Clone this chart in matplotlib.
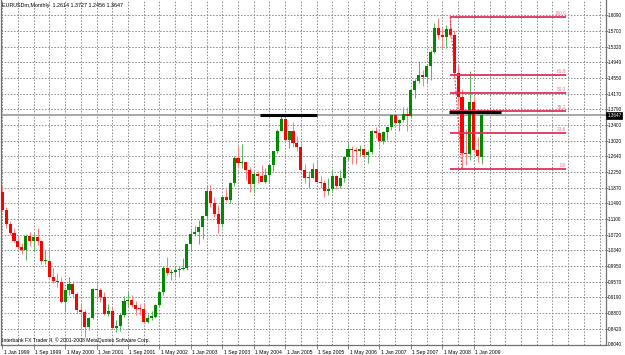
import numpy as np
import pandas as pd
import matplotlib
matplotlib.use("Agg")
import matplotlib.pyplot as plt
import matplotlib.transforms as mtransforms

# ---------------- data (EURUSD monthly, Jan 1999 - Mar 2009) ----------------
months = pd.period_range("1999-01", "2009-03", freq="M")

opens = [
    1.1770, 1.1330, 1.0990, 1.0765, 1.0570, 1.0420, 1.0340, 1.0690, 1.0560, 1.0670, 1.0560, 1.0070,
    1.0070, 0.9690, 0.9600, 0.9570, 0.9080, 0.9370, 0.9520, 0.9270, 0.8880, 0.8830, 0.8480, 0.8700,
    0.9390, 0.9370, 0.9200, 0.8780, 0.8850, 0.8450, 0.8490, 0.8760, 0.9110, 0.9130, 0.9000, 0.8910,
    0.8900, 0.8600, 0.8700, 0.8720, 0.9010, 0.9330, 0.9910, 0.9780, 0.9810, 0.9870, 0.9890, 0.9920,
    1.0490, 1.0730, 1.0780, 1.0910, 1.1170, 1.1790, 1.1490, 1.1240, 1.0990, 1.1650, 1.1580, 1.1990,
    1.2590, 1.2480, 1.2490, 1.2300, 1.1970, 1.2200, 1.2170, 1.2020, 1.2180, 1.2430, 1.2760, 1.3270,
    1.3560, 1.3040, 1.3250, 1.2960, 1.2870, 1.2300, 1.2100, 1.2120, 1.2330, 1.2020, 1.1990, 1.1790,
    1.1840, 1.2150, 1.1920, 1.2120, 1.2620, 1.2810, 1.2790, 1.2760, 1.2810, 1.2680, 1.2750, 1.3250,
    1.3200, 1.3020, 1.3230, 1.3350, 1.3650, 1.3450, 1.3540, 1.3680, 1.3630, 1.4260, 1.4490, 1.4640,
    1.4590, 1.4860, 1.5180, 1.5790, 1.5610, 1.5550, 1.5750, 1.5600, 1.4670, 1.4090, 1.2730, 1.2700,
    1.3970, 1.2800, 1.2614,
]
highs = [
    1.1906, 1.1400, 1.1050, 1.0890, 1.0720, 1.0520, 1.0750, 1.0780, 1.0760, 1.0900, 1.0600, 1.0340,
    1.0410, 0.9900, 0.9780, 0.9690, 0.9380, 0.9690, 0.9600, 0.9330, 0.9050, 0.8880, 0.8720, 0.9420,
    0.9590, 0.9410, 0.9320, 0.9040, 0.8950, 0.8640, 0.8810, 0.9230, 0.9320, 0.9250, 0.9100, 0.9030,
    0.9050, 0.8780, 0.8850, 0.9030, 0.9350, 0.9970, 1.0190, 0.9890, 0.9950, 0.9950, 1.0150, 1.0500,
    1.0850, 1.0930, 1.1080, 1.1180, 1.1930, 1.1930, 1.1640, 1.1450, 1.1670, 1.1840, 1.2010, 1.2640,
    1.2900, 1.2930, 1.2500, 1.2380, 1.2280, 1.2270, 1.2420, 1.2350, 1.2430, 1.2780, 1.3310, 1.3667,
    1.3570, 1.3260, 1.3480, 1.3130, 1.2970, 1.2450, 1.2290, 1.2480, 1.2580, 1.2170, 1.2050, 1.2100,
    1.2320, 1.2180, 1.2300, 1.2640, 1.2980, 1.2900, 1.2880, 1.2920, 1.2880, 1.2800, 1.3290, 1.3370,
    1.3250, 1.3250, 1.3390, 1.3680, 1.3660, 1.3550, 1.3850, 1.3850, 1.4280, 1.4530, 1.4970, 1.4760,
    1.4880, 1.5230, 1.5910, 1.6020, 1.5790, 1.5840, 1.6038, 1.5730, 1.4870, 1.4290, 1.3300, 1.4720,
    1.4080, 1.3110, 1.3727,
]
lows = [
    1.1310, 1.0880, 1.0710, 1.0550, 1.0380, 1.0260, 1.0110, 1.0450, 1.0320, 1.0480, 1.0020, 1.0000,
    0.9700, 0.9550, 0.9450, 0.9050, 0.8845, 0.9260, 0.9180, 0.8820, 0.8400, 0.8228, 0.8400, 0.8670,
    0.9120, 0.9070, 0.8750, 0.8730, 0.8440, 0.8350, 0.8360, 0.8720, 0.8960, 0.8950, 0.8770, 0.8760,
    0.8570, 0.8560, 0.8650, 0.8690, 0.8990, 0.9260, 0.9730, 0.9610, 0.9700, 0.9700, 0.9860, 0.9870,
    1.0340, 1.0690, 1.0500, 1.0620, 1.1120, 1.1410, 1.1150, 1.0760, 1.0910, 1.1560, 1.1500, 1.1920,
    1.2350, 1.2360, 1.2060, 1.1760, 1.1750, 1.2000, 1.2030, 1.1980, 1.2000, 1.2280, 1.2720, 1.3260,
    1.2980, 1.2850, 1.2880, 1.2760, 1.2300, 1.1980, 1.1870, 1.2100, 1.2000, 1.1870, 1.1640, 1.1700,
    1.1800, 1.1830, 1.1860, 1.2020, 1.2550, 1.2450, 1.2450, 1.2660, 1.2630, 1.2480, 1.2700, 1.3100,
    1.2860, 1.2930, 1.3030, 1.3290, 1.3400, 1.3260, 1.3490, 1.3260, 1.3580, 1.4060, 1.4430, 1.4360,
    1.4430, 1.4500, 1.5160, 1.5520, 1.5280, 1.5300, 1.5570, 1.4580, 1.3880, 1.2330, 1.2420, 1.2560,
    1.2750, 1.2510, 1.2456,
]
closes = [
    1.1330, 1.0990, 1.0765, 1.0570, 1.0420, 1.0340, 1.0690, 1.0560, 1.0670, 1.0560, 1.0070, 1.0070,
    0.9690, 0.9600, 0.9570, 0.9080, 0.9370, 0.9520, 0.9270, 0.8880, 0.8830, 0.8480, 0.8700, 0.9390,
    0.9370, 0.9200, 0.8780, 0.8850, 0.8450, 0.8490, 0.8760, 0.9110, 0.9130, 0.9000, 0.8910, 0.8900,
    0.8600, 0.8700, 0.8720, 0.9010, 0.9330, 0.9910, 0.9780, 0.9810, 0.9870, 0.9890, 0.9920, 1.0490,
    1.0730, 1.0780, 1.0910, 1.1170, 1.1790, 1.1490, 1.1240, 1.0990, 1.1650, 1.1580, 1.1990, 1.2590,
    1.2480, 1.2490, 1.2300, 1.1970, 1.2200, 1.2170, 1.2020, 1.2180, 1.2430, 1.2760, 1.3270, 1.3560,
    1.3040, 1.3250, 1.2960, 1.2870, 1.2300, 1.2100, 1.2120, 1.2330, 1.2020, 1.1990, 1.1790, 1.1840,
    1.2150, 1.1920, 1.2120, 1.2620, 1.2810, 1.2790, 1.2760, 1.2810, 1.2680, 1.2750, 1.3250, 1.3200,
    1.3020, 1.3230, 1.3350, 1.3650, 1.3450, 1.3540, 1.3680, 1.3630, 1.4260, 1.4490, 1.4640, 1.4590,
    1.4860, 1.5180, 1.5790, 1.5610, 1.5550, 1.5750, 1.5600, 1.4670, 1.4090, 1.2730, 1.2700, 1.3970,
    1.2800, 1.2660, 1.3647,
]

price_ticks = [0.8040, 0.8420, 0.8800, 0.9190, 0.9570, 0.9950, 1.0340, 1.0720, 1.1100, 1.1490,
               1.1870, 1.2250, 1.2640, 1.3020, 1.3400, 1.3790, 1.4170, 1.4550, 1.4940, 1.5320,
               1.5700, 1.6090]
date_labels = ["1 Jan 1999", "1 Sep 1999", "1 May 2000", "1 Jan 2001", "1 Sep 2001", "1 May 2002",
               "1 Jan 2003", "1 Sep 2003", "1 May 2004", "1 Jan 2005", "1 Sep 2005", "1 May 2006",
               "1 Jan 2007", "1 Sep 2007", "1 May 2008", "1 Jan 2009"]

fib_levels = ["0.0", "23.6", "38.2", "50.0", "61.8", "100.0"]
fib_ratios = [0.0, 0.236, 0.382, 0.5, 0.618, 1.0]
fib_low, fib_high = 1.2330, 1.6038
resistance_2004 = 1.3650
resistance_2009 = 1.3727
current_price = 1.3647
header = "EURUSDm,Monthly  1.2614 1.3727 1.2456 1.3647"
copyright_text = "Interbank FX Trader 4, \u00a9 2001-2008 MetaQuotes Software Corp."

# ---------------- figure ----------------
W, H = 625, 355
fig = plt.figure(figsize=(W / 100, H / 100), dpi=100)
fig.patch.set_facecolor("white")
ax = fig.add_axes([0.5 / W, 10.5 / H, 605 / W, 344.5 / H])

x = np.arange(len(months))
o = np.array(opens); h = np.array(highs); l = np.array(lows); c = np.array(closes)
up = c >= o

FONT = "Liberation Sans"
GRID = "#8c8c8c"

# grid
for p in price_ticks:
    ax.axhline(p, color=GRID, lw=0.7, dashes=(1.6, 1.6), zorder=0)
for gx in range(0, 154, 4):
    ax.axvline(gx, color=GRID, lw=0.7, dashes=(1.6, 1.6), zorder=0)

# current price line
ax.axhline(current_price, color="#a0a0a0", lw=1.3, zorder=1)

# candles
green, red = "#008a00", "#ff0000"
ax.vlines(x[up], l[up], h[up], color="#5fb45f", lw=0.75, zorder=2)
ax.vlines(x[~up], l[~up], h[~up], color="#ff7f7f", lw=0.75, zorder=2)
body_lo = np.minimum(o, c)
body_h = np.maximum(np.abs(c - o), 0.0025)
ax.bar(x[up], body_h[up], bottom=body_lo[up], width=0.78, color=green, lw=0, zorder=3)
ax.bar(x[~up], body_h[~up], bottom=body_lo[~up], width=0.78, color=red, lw=0, zorder=3)

# fibonacci retracement
i_hi = list(months).index(pd.Period("2008-07", "M"))
i_lo = list(months).index(pd.Period("2008-10", "M"))
fib_end = 143.5
FIB = "#e0305a"
for lab, r in zip(fib_levels, fib_ratios):
    lvl = fib_low + r * (fib_high - fib_low)
    ax.plot([i_hi, fib_end], [lvl, lvl], color=FIB, lw=1.3, zorder=4, solid_capstyle="butt")
    ax.text(fib_end, lvl + 0.003, lab, color="#e87a90", fontsize=3.4, family=FONT,
            ha="right", va="bottom", zorder=5)
ax.plot([i_hi, i_lo], [fib_high, fib_low], color=FIB, lw=0.8, dashes=(1.5, 1.5), zorder=4)

# horizontal resistance lines
ax.plot([65.7, 80.0], [resistance_2004] * 2, color="black", lw=2.2, zorder=5, solid_capstyle="butt")
ax.plot([113.6, 127.0], [resistance_2009] * 2, color="black", lw=2.2, zorder=5, solid_capstyle="butt")

# axes
ax.set_xlim(-0.43, -0.43 + 605 / 3.93)
ax.set_ylim(0.8040, 0.8040 + 344.5 / 409.0)
ax.set_facecolor("white")
ax.spines["top"].set_visible(False)
for s in ["left", "right", "bottom"]:
    ax.spines[s].set_color("#707070")
    ax.spines[s].set_linewidth(0.9)

ax.yaxis.tick_right()
ax.set_yticks(price_ticks)
ax.set_yticklabels([f"{p:.4f}" for p in price_ticks], fontsize=3.3, family=FONT)
ax.tick_params(axis="y", length=1.2, width=0.6, color="#707070", pad=0.6)

label_pos = np.arange(0, 121, 8)
ax.set_xticks(label_pos)
ax.set_xticklabels(date_labels, fontsize=3.7, family=FONT, ha="left")
ax.tick_params(axis="x", length=3, width=0.6, color="#707070", pad=1.0)
offset = mtransforms.ScaledTranslation(1.5 / 100, 0, fig.dpi_scale_trans)
for t in ax.get_xticklabels():
    t.set_transform(t.get_transform() + offset)

# current price box
ax.annotate(f"{current_price:.4f}", xy=(1.0, current_price), xycoords=("axes fraction", "data"),
            xytext=(1.3, 0), textcoords="offset points", fontsize=3.3, family=FONT,
            color="white", va="center", ha="left",
            bbox=dict(boxstyle="square,pad=0.2", fc="black", ec="black", lw=0.5), zorder=10,
            annotation_clip=False)

# texts
fig.text(2 / W, 1 - 5.5 / H, header, fontsize=3.9, family=FONT, va="center", ha="left")
fig.text(2 / W, 1 - 340 / H, copyright_text, fontsize=3.7, family=FONT, va="center", ha="left")

fig.savefig("out.png", dpi=100, facecolor="white")
